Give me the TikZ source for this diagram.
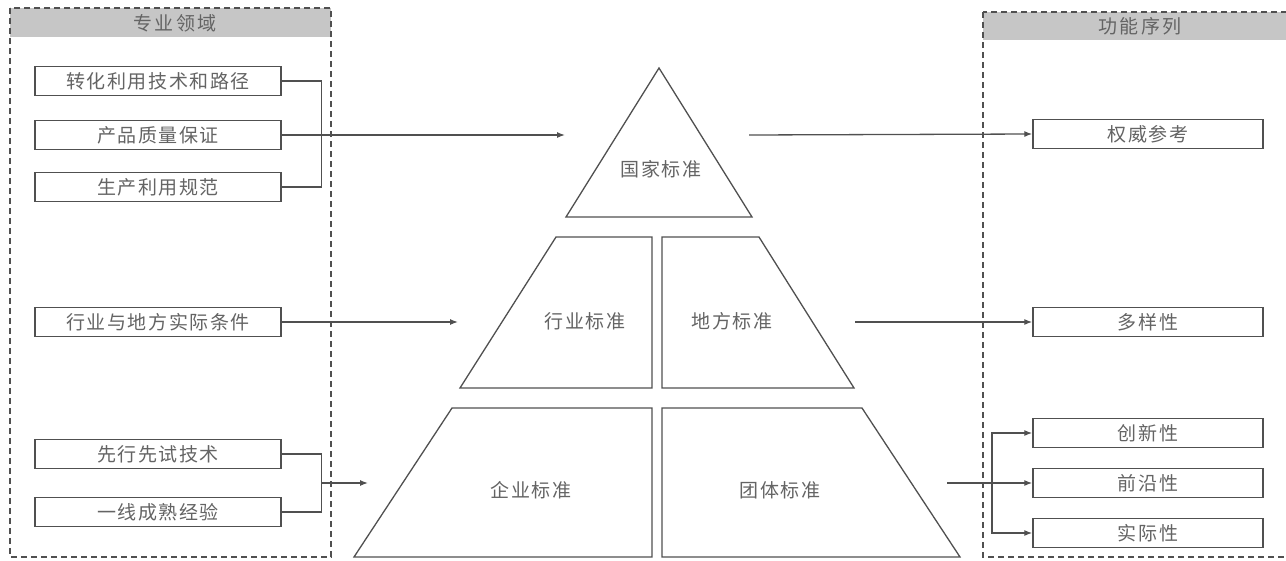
\documentclass[tikz,border=0pt]{standalone}
\usepackage{fontspec}
\usepackage{tikz}
\usetikzlibrary{arrows.meta, positioning, calc}
\newfontfamily\cjk[LetterSpace=8]{Noto Sans CJK SC}
\newfontfamily\cjkwide[LetterSpace=12]{Noto Sans CJK SC}
\definecolor{linegray}{RGB}{80,80,80}
\definecolor{textgray}{RGB}{100,100,100}
\definecolor{headgray}{RGB}{198,198,198}

\begin{document}
\begin{tikzpicture}[x=1pt, y=-1pt,
    domainbox/.style={draw=linegray, line width=1.4pt, minimum width=246pt, minimum height=29pt,
        inner sep=0pt, font=\cjk\fontsize{19}{19}\selectfont, text=textgray},
    funcbox/.style={domainbox, minimum width=230pt},
    head/.style={font=\cjkwide\fontsize{19}{19}\selectfont, text=textgray},
    level/.style={font=\cjk\fontsize{19}{19}\selectfont, text=textgray},
    piece/.style={draw=linegray, line width=1.3pt, line join=miter},
    link/.style={draw=linegray, line width=1.3pt},
    arr/.style={link, -{Latex[length=8pt, width=6pt]}},
    panel/.style={draw=linegray, line width=1.2pt, dash pattern=on 6pt off 4pt}]

    \clip (0,0) rectangle (1286,560);
    \fill[white] (0,0) rectangle (1286,560);

    % Side panels
    \fill[headgray] (10,8) rectangle (331,37);
    \fill[headgray] (983,12) rectangle (1300,40);
    \draw[panel] (10,8) rectangle (331,557);
    \draw[panel] (983,12) rectangle (1300,557);
    \node[head] (domhead) at (175,23) {专业领域};
    \node[head] (funchead) at (1140,26) {功能序列};

    % Pyramid
    \draw[piece] (659,68) -- (752,217) -- (566,217) -- cycle;
    \draw[piece] (556,237) -- (652,237) -- (652,388) -- (460,388) -- cycle;
    \draw[piece] (662,237) -- (759,237) -- (854,388) -- (662,388) -- cycle;
    \draw[piece] (452,408) -- (652,408) -- (652,557) -- (354,557) -- cycle;
    \draw[piece] (662,408) -- (862,408) -- (960,557) -- (662,557) -- cycle;

    \node[level] (national) at (661,169) {国家标准};
    \node[level] (industry) at (585,321) {行业标准};
    \node[level] (local)    at (732,321) {地方标准};
    \node[level] (enterprise) at (531,490) {企业标准};
    \node[level] (group)    at (780,490) {团体标准};

    % Domain boxes
    \foreach \n/\y/\t in {1/81/转化利用技术和路径, 2/135/产品质量保证, 3/187/生产利用规范,
                          4/322/行业与地方实际条件, 5/454/先行先试技术, 6/512/一线成熟经验}
        \node[domainbox] (dom\n) at (158,\y) {\t};

    % Function boxes
    \foreach \n/\y/\t in {1/134/权威参考, 2/322/多样性, 3/433/创新性, 4/483/前沿性, 5/533/实际性}
        \node[funcbox] (fun\n) at (1148,\y) {\t};

    % Arrow ends at the pyramid
    \coordinate (natin)  at (565,135);
    \coordinate (natout) at (749,135);
    \coordinate (midin)  at (458,322);
    \coordinate (midout) at (855,322);
    \coordinate (lowin)  at (368,483);
    \coordinate (lowout) at (947,483);
    \coordinate (lowjoin) at (321,483);
    \coordinate (split)  at (992,483);

    % Left connectors
    \draw[link] (dom1.east) -- ++(40,0) |- (dom3.east);
    \draw[arr] (dom2.east) -- (natin);
    \draw[arr] (dom4.east) -- (midin);
    \draw[link] (dom5.east) -- ++(40,0) |- (dom6.east);
    \draw[arr] (lowjoin) -- (lowin);

    % Right connectors
    \draw[arr] (natout) -- (fun1.west);
    \draw[arr] (midout) -- (fun2.west);
    \draw[arr] (lowout) -- (fun4.west);
    \draw[arr] (split) |- (fun3.west);
    \draw[arr] (split) |- (fun5.west);
\end{tikzpicture}
\end{document}
